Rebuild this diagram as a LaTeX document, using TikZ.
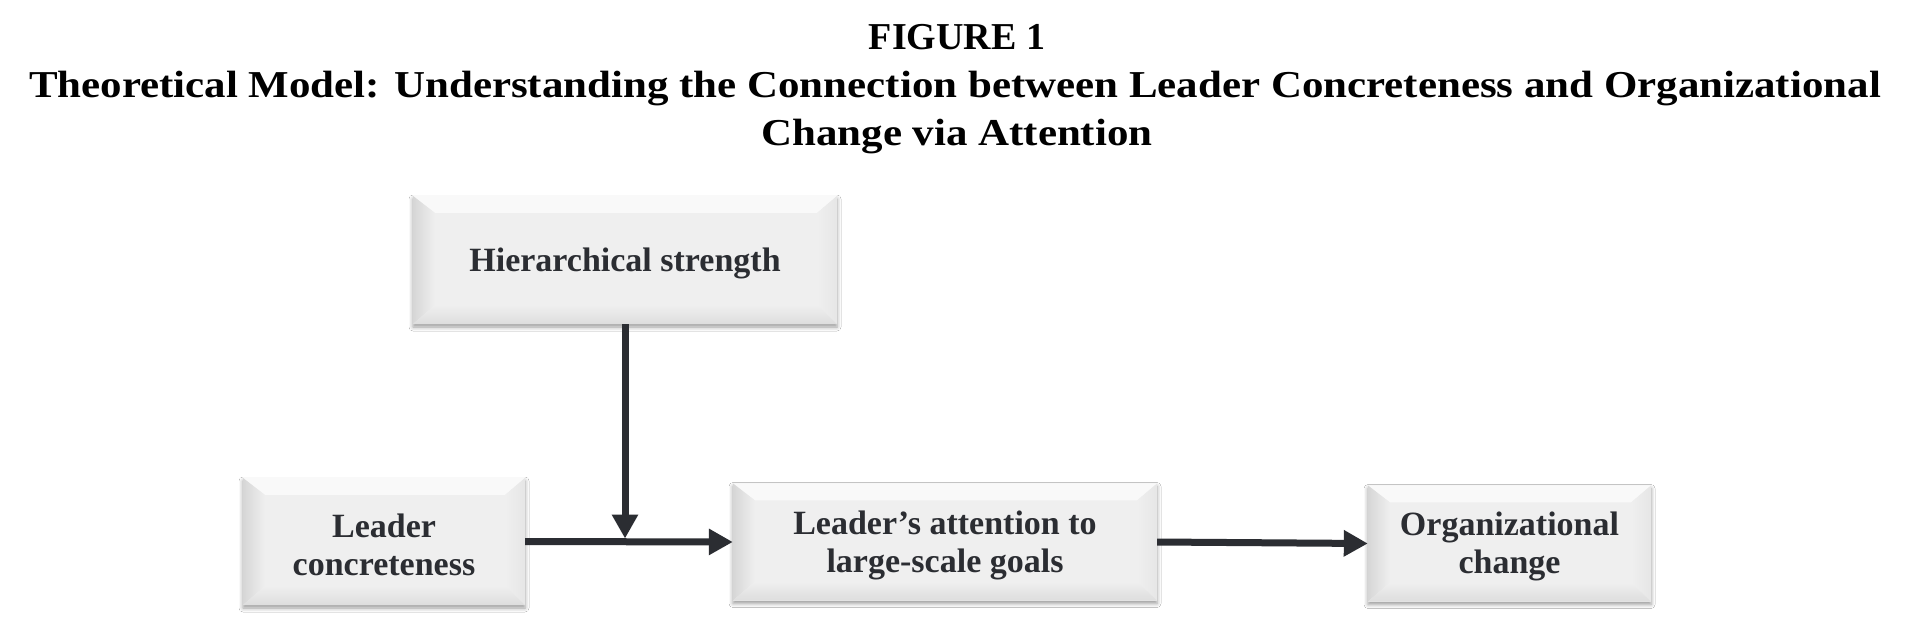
\documentclass[tikz,border=0pt]{standalone}
\usepackage{fontspec}
\setmainfont{Liberation Serif}
\newfontfamily\wideserif[FakeStretch=1.13]{Liberation Serif}
\usetikzlibrary{arrows.meta,calc,shadows.blur}
\definecolor{ink}{HTML}{2B2D32}
\definecolor{face}{HTML}{EFEFEF}
\definecolor{edgedark}{HTML}{D6D6D6}
\definecolor{edgelow}{HTML}{DDDDDD}
\definecolor{edgelight}{HTML}{F9F9F9}
\definecolor{edgeright}{HTML}{E6E6E6}

% bevelled rim drawn inside a named rectangular node
\newcommand\bevelrim[1]{%
  \coordinate (nw) at (#1.north west);
  \coordinate (ne) at (#1.north east);
  \coordinate (sw) at (#1.south west);
  \coordinate (se) at (#1.south east);
  \coordinate (inw) at ($(nw)+(22,17)$);
  \coordinate (ine) at ($(ne)+(-20,17)$);
  \coordinate (isw) at ($(sw)+(22,-19)$);
  \coordinate (ise) at ($(se)+(-20,-19)$);
  \fill[edgelight] (nw) -- (ne) -- (ine) -- (inw) -- cycle;
  \shade[left color=edgedark, right color=face] (nw) -- (inw) -- (isw) -- (sw) -- cycle;
  \shade[left color=face, right color=edgeright] (ne) -- (ine) -- (ise) -- (se) -- cycle;
  \shade[top color=face, bottom color=edgelow] (sw) -- (isw) -- (ise) -- (se) -- cycle;
}

\begin{document}
\begin{tikzpicture}[x=1pt,y=-1pt,
  card/.style={fill=face, inner sep=0pt, text=ink, align=center,
    font=\bfseries\fontsize{34}{38}\selectfont,
    blur shadow={shadow xshift=0pt, shadow yshift=-3pt,
      shadow blur radius=4pt, shadow opacity=40}},
  label/.style={text=ink, align=center, inner sep=0pt, yshift=-3pt,
    font=\bfseries\fontsize{34}{38}\selectfont},
  link/.style={draw=ink, line width=7pt, -{Triangle[length=24pt,width=25pt]}},
  ttl/.style={anchor=base, inner sep=0pt, text=black,
    font=\bfseries\fontsize{38}{48}\selectfont},
  subttl/.style={ttl, font=\wideserif\bfseries\fontsize{38}{48}\selectfont}]
\useasboundingbox[fill=white] (0,0) rectangle (1916,642);

% heading
\node[ttl] (fig) at (957,49) {FIGURE 1};
\node[subttl] (cap1) at (955,97) {Theoretical Model: Understanding the Connection between Leader Concreteness and Organizational};
\node[subttl] (cap2) at (957,145) {Change via Attention};

% boxes
\node[card, minimum width=424pt, minimum height=128pt] (hs) at (625,260) {};
\node[card, minimum width=282pt, minimum height=127pt] (lc) at (384,541.5) {};
\node[card, minimum width=424pt, minimum height=117pt] (la) at (945,542) {};
\node[card, minimum width=283pt, minimum height=116pt] (oc) at (1509.5,543.5) {};

\bevelrim{hs}
\bevelrim{lc}
\bevelrim{la}
\bevelrim{oc}

\node[label] (hst) at (hs) {Hierarchical strength};
\node[label] (lct) at (lc) {Leader\\concreteness};
\node[label] (lat) at (la) {Leader’s attention to\\large-scale goals};
\node[label] (oct) at (oc) {Organizational\\change};

% connectors
\coordinate (j) at (hs.south |- lc.east);
\draw[link] (lc.east) -- (la.west);
\draw[link, shorten >=3pt] (hs.south) -- (j);
\draw[link] (la.east) -- (oc.west);
\end{tikzpicture}
\end{document}
